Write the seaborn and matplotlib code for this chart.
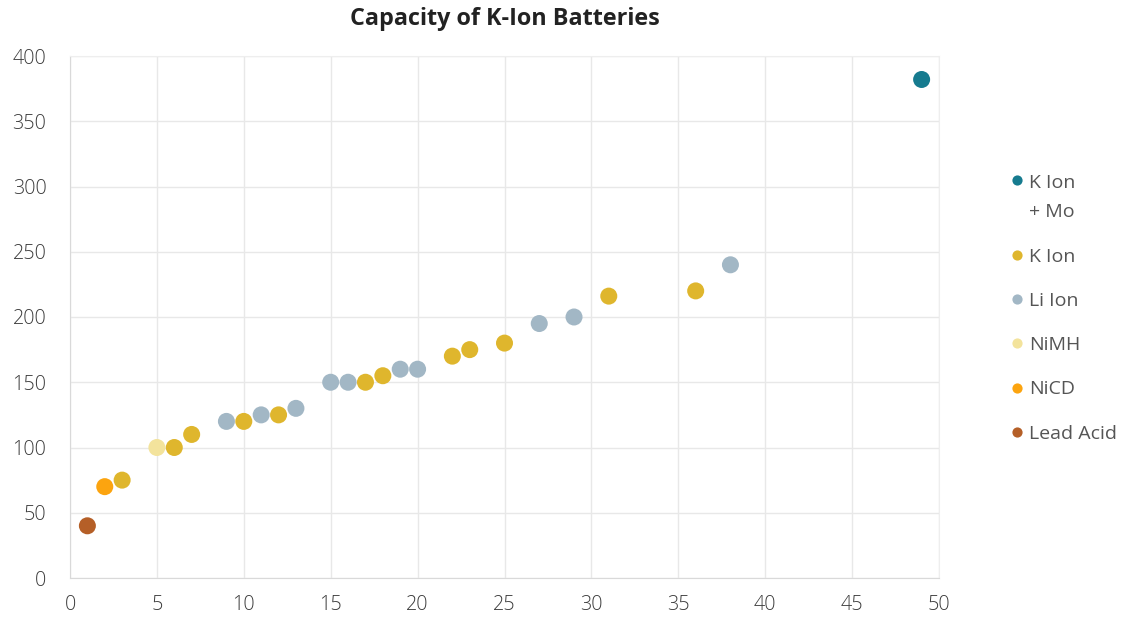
import pandas as pd
import numpy as np
import matplotlib
matplotlib.use("Agg")
import matplotlib.pyplot as plt
import seaborn as sns

# data
x_vals = [1, 2, 3, 5, 6, 7, 9, 10, 11, 12, 13, 15, 16, 17, 18, 19, 20,
          22, 23, 25, 27, 29, 31, 36, 38, 49]
capacity = [40, 70, 75, 100, 100, 110, 120, 120, 125, 125, 130, 150, 150, 150,
            155, 160, 160, 170, 175, 180, 195, 200, 216, 220, 240, 382]
battery = ["Lead Acid", "NiCD", "K Ion", "NiMH", "K Ion", "K Ion", "Li Ion",
           "K Ion", "Li Ion", "K Ion", "Li Ion", "Li Ion", "Li Ion", "K Ion",
           "K Ion", "Li Ion", "Li Ion", "K Ion", "K Ion", "K Ion", "Li Ion",
           "Li Ion", "K Ion", "K Ion", "Li Ion", "K Ion\n+ Mo"]

legend_order = ["K Ion\n+ Mo", "K Ion", "Li Ion", "NiMH", "NiCD", "Lead Acid"]
colors = ["#167b8f", "#dfb62d", "#a2b7c5", "#f3e39c", "#fca40f", "#b55f27"]

df = pd.DataFrame({"x": x_vals, "capacity": capacity, "battery": battery})

sns.set_style("white")
plt.rcParams["font.family"] = ["Open Sans", "DejaVu Sans"]

fig = plt.figure(figsize=(11.29, 6.17), dpi=100)
ax = fig.add_axes([70 / 1129, 39 / 617, 869 / 1129, 522 / 617])

sns.scatterplot(data=df, x="x", y="capacity", hue="battery",
                hue_order=legend_order, palette=colors, s=150,
                edgecolor="none", ax=ax, zorder=3)

ax.set_xlim(0, 50)
ax.set_ylim(0, 400)
ax.set_xticks(range(0, 51, 5))
ax.set_yticks(range(0, 401, 50))
ax.grid(True, color="#e8e8e8", linewidth=1)
ax.set_axisbelow(True)
for side in ["top", "right"]:
    ax.spines[side].set_color("#eeeeee")
for side in ["left", "bottom"]:
    ax.spines[side].set_color("#d9d9d9")
ax.tick_params(axis="both", labelsize=14.2, colors="#3c3c3c", length=0)
ax.tick_params(axis="y", pad=17)
ax.tick_params(axis="x", pad=12)
for lbl in ax.get_xticklabels() + ax.get_yticklabels():
    lbl.set_fontweight("light")
ax.set_xlabel("")
ax.set_ylabel("")
ax.set_title("Capacity of K-Ion Batteries", fontsize=16.8, fontweight="bold",
             color="#222222", pad=22)

leg = ax.legend(loc="center left", bbox_to_anchor=(1.056, 0.517), frameon=False,
                fontsize=14, labelspacing=1.35, handletextpad=0.05,
                markerscale=0.6, handlelength=1.2)
for t in leg.get_texts():
    t.set_color("#555555")
    t.set_linespacing(1.85)

# keep the dot of the two-line entry next to its first line
first_item = leg._legend_handle_box.get_children()[0].get_children()[0]
first_item.align = "top"

fig.savefig("out.png", dpi=100)
